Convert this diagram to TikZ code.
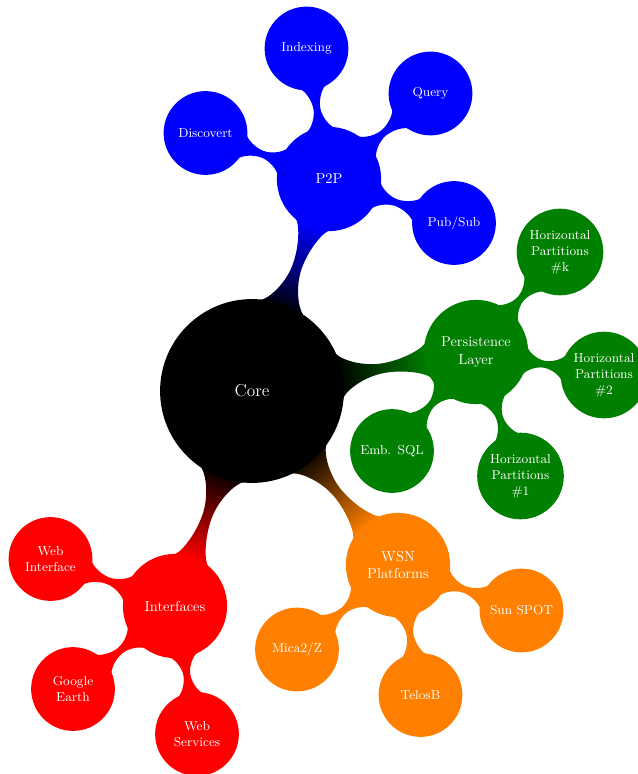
\documentclass[tikz,border=0pt]{standalone}
\usetikzlibrary{mindmap,backgrounds,calc}
\definecolor{wsnorange}{RGB}{255,128,0}
\definecolor{persgreen}{RGB}{0,128,0}
\tikzset{
  rootc/.style={concept, concept color=black, text=white, minimum size=4.44cm, text width=3cm, inner sep=0pt, font=\large, align=center},
  mainc/.style={concept, text=white, minimum size=2.5cm, text width=2cm, inner sep=0pt, font=\normalsize, align=center},
  leafc/.style={concept, text=white, minimum size=2cm, text width=1.6cm, inner sep=0pt, font=\small, align=center},
  wideleaf/.style={leafc, minimum size=2.07cm},
  rootshade/.style={bottom color=black, top color=#1, shading angle=\cbshade},
}
% Bar between two circular concepts, pinched in the middle.
% #1,#2 nodes; #3,#4 half attach angles at #1,#2; #5 half waist; #6 fill style
\newcommand{\connbar}[6]{%
  \path (#1.center); \pgfgetlastxy{\cbax}{\cbay}
  \path (#2.center); \pgfgetlastxy{\cbbx}{\cbby}
  \path (#1.east); \pgfgetlastxy{\cbaex}{\cbaey}
  \path (#2.east); \pgfgetlastxy{\cbbex}{\cbbey}
  \pgfmathsetmacro\cbang{atan2(\cbby-\cbay,\cbbx-\cbax)}
  \pgfmathsetmacro\cbdist{veclen(\cbbx-\cbax,\cbby-\cbay)}
  \pgfmathsetmacro\cbra{\cbaex-\cbax}
  \pgfmathsetmacro\cbrb{\cbbex-\cbbx}
  \pgfmathsetmacro\cbgap{\cbdist-\cbra-\cbrb}
  \pgfmathsetmacro\cbmid{\cbra+\cbgap/2}
  \pgfmathsetmacro\cbca{0.35*\cbra*sin(#3)}
  \pgfmathsetmacro\cbcb{0.35*\cbrb*sin(#4)}
  \pgfmathsetmacro\cbcw{0.25*\cbgap}
  \pgfmathsetmacro\cbshade{\cbang-90}
  \path[#6]
    ($(#1.center)+({\cbang+#3}:\cbra pt)$)
    .. controls +({\cbang+#3-90}:\cbca pt) and +({\cbang+180}:\cbcw pt) ..
    ($(#1.center)+(\cbang:\cbmid pt)+({\cbang+90}:#5)$)
    .. controls +(\cbang:\cbcw pt) and +({\cbang-90-#4}:\cbcb pt) ..
    ($(#2.center)+({\cbang+180-#4}:\cbrb pt)$)
    -- ($(#2.center)+({\cbang+180+#4}:\cbrb pt)$)
    .. controls +({\cbang+90+#4}:\cbcb pt) and +(\cbang:\cbcw pt) ..
    ($(#1.center)+(\cbang:\cbmid pt)+({\cbang-90}:#5)$)
    .. controls +({\cbang+180}:\cbcw pt) and +({\cbang+90-#3}:\cbca pt) ..
    ($(#1.center)+({\cbang-#3}:\cbra pt)$)
    -- cycle;
}
\begin{document}
\begin{tikzpicture}[mindmap, x=0.02439cm, y=-0.02439cm]
  \useasboundingbox (0,0) rectangle (638,774);

  % root
  \node[rootc] (core) at (252,391) {Core};

  % P2P branch
  \node[mainc, concept color=blue] (p2p) at (329,179) {P2P};
  \node[leafc, concept color=blue] (idx) at (306.5,48.5) {Indexing};
  \node[leafc, concept color=blue] (query) at (430.5,93.5) {Query};
  \node[leafc, concept color=blue] (disc) at (205.5,133) {Discovert};
  \node[leafc, concept color=blue] (pubsub) at (454,223) {Pub/Sub};

  % persistence branch
  \node[mainc, concept color=persgreen] (pers) at (476,352) {Persistence\\Layer};
  \node[wideleaf, concept color=persgreen] (hpk) at (560,252) {Horizontal\\Partitions\\\#k};
  \node[wideleaf, concept color=persgreen] (hp2) at (604,375) {Horizontal\\Partitions\\\#2};
  \node[wideleaf, concept color=persgreen] (hp1) at (520.5,476) {Horizontal\\Partitions\\\#1};
  \node[leafc, concept color=persgreen] (sql) at (392,451) {Emb. SQL};

  % WSN branch
  \node[mainc, concept color=wsnorange] (wsn) at (398,565) {WSN\\Platforms};
  \node[leafc, concept color=wsnorange] (spot) at (521.5,610.5) {Sun SPOT};
  \node[leafc, concept color=wsnorange] (telos) at (420.5,695) {TelosB};
  \node[leafc, concept color=wsnorange] (mica) at (297,649.5) {Mica2/Z};

  % interfaces branch
  \node[mainc, concept color=red] (ifc) at (175,606) {Interfaces};
  \node[leafc, concept color=red] (webi) at (50.5,559) {Web\\Interface};
  \node[leafc, concept color=red] (ge) at (73,689) {Google\\Earth};
  \node[leafc, concept color=red] (ws) at (197,734) {Web\\Services};

  \begin{pgfonlayer}{background}
    % root to main branches, shaded from black
    \connbar{core}{p2p}{16}{22}{3.4pt}{rootshade=blue}
    \connbar{core}{pers}{16}{22}{3.4pt}{rootshade=persgreen}
    \connbar{core}{wsn}{16}{22}{3.4pt}{rootshade=wsnorange}
    \connbar{core}{ifc}{16}{22}{3.4pt}{rootshade=red}
    % main branches to leaves
    \foreach \leaf in {idx,query,disc,pubsub}
      {\connbar{p2p}{\leaf}{18}{20}{2.4pt}{fill=blue}}
    \foreach \leaf in {hpk,hp2,hp1,sql}
      {\connbar{pers}{\leaf}{18}{20}{2.4pt}{fill=persgreen}}
    \foreach \leaf in {spot,telos,mica}
      {\connbar{wsn}{\leaf}{18}{20}{2.4pt}{fill=wsnorange}}
    \foreach \leaf in {webi,ge,ws}
      {\connbar{ifc}{\leaf}{18}{20}{2.4pt}{fill=red}}
  \end{pgfonlayer}
\end{tikzpicture}
\end{document}
